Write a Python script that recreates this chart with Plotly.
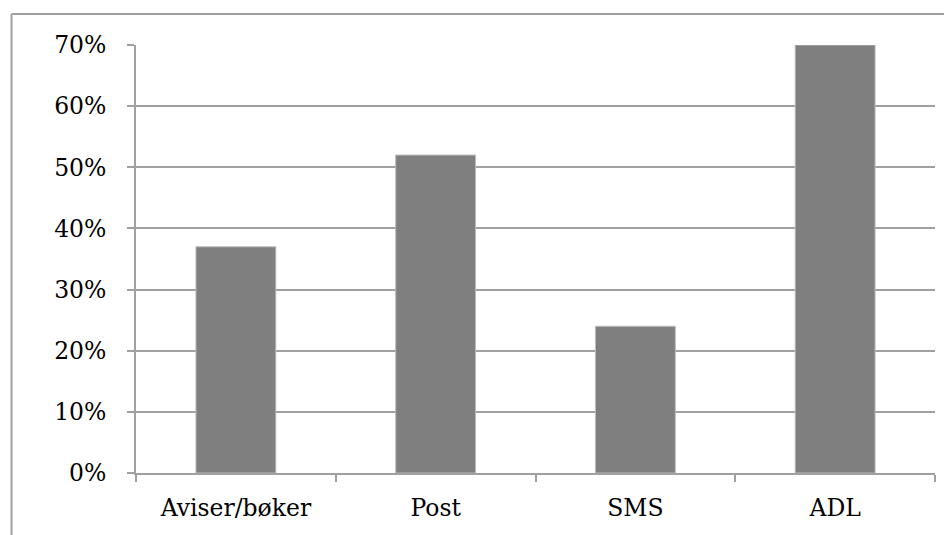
import plotly.graph_objects as go

# Share of respondents per reading/writing activity
categories = ["Aviser/bøker", "Post", "SMS", "ADL"]
shares = [37, 52, 24, 70]
y_ticks = [0, 10, 20, 30, 40, 50, 60, 70]
y_tick_labels = [f"{v}%" for v in y_ticks]

GRID = "#a0a0a0"
FONT = dict(family="DejaVu Serif", size=23.5, color="#000000")

fig = go.Figure(
    go.Bar(
        x=categories,
        y=shares,
        width=0.4,
        marker=dict(color="#7f7f7f", line=dict(color="#bdbdbd", width=1)),
        hoverinfo="x+y",
    )
)

fig.update_layout(
    width=944,
    height=535,
    margin=dict(l=136, r=9, t=45, b=62),
    paper_bgcolor="white",
    plot_bgcolor="white",
    font=FONT,
    showlegend=False,
    bargap=0.6,
)

fig.update_xaxes(
    type="category",
    tickson="boundaries",
    ticks="outside",
    ticklen=7,
    tickwidth=1.6,
    tickcolor=GRID,
    showline=True,
    linecolor=GRID,
    linewidth=1.8,
    showgrid=False,
    tickfont=FONT,
    ticklabelstandoff=13,
)

fig.update_yaxes(
    range=[0, 70],
    tickvals=y_ticks,
    ticktext=y_tick_labels,
    ticks="outside",
    ticklen=7,
    tickwidth=1.6,
    tickcolor=GRID,
    showline=True,
    linecolor=GRID,
    linewidth=1.8,
    showgrid=True,
    gridcolor=GRID,
    gridwidth=1.6,
    zeroline=False,
    tickfont=FONT,
    ticklabelstandoff=16,
)

# Outer chart frame (left and top edges visible)
fig.add_shape(
    type="line", xref="paper", yref="paper",
    x0=-0.1558, x1=1.2, y0=1.0724, y1=1.0724,
    line=dict(color=GRID, width=2),
)
fig.add_shape(
    type="line", xref="paper", yref="paper",
    x0=-0.1558, x1=-0.1558, y0=-0.2, y1=1.0724,
    line=dict(color=GRID, width=2),
)

fig.write_html("out.html")
